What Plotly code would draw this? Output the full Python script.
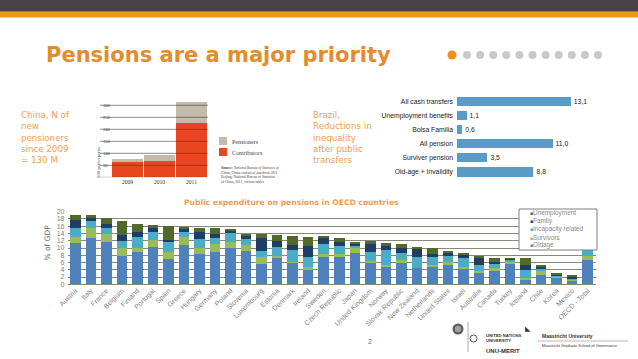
import plotly.graph_objects as go

W, H = 638, 359
def X(px): return px / W
def Y(py): return 1 - py / H

# ---------------- data ----------------
china_years = ["2009", "2010", "2011"]
china_contributors = [62, 67, 225]
china_pensioners = [14, 26, 87]
china_ticks = [0, 50, 100, 150, 200, 250, 300, 350]
china_ticktext = ["0", "50", "100", "150", "200", "250", "300", "350 million"]

brazil_cats = ["All cash transfers", "Unemployment benefits", "Bolsa Familia",
               "All pension", "Surviver pension", "Old-age + Invalidity"]
brazil_vals = [13.1, 1.1, 0.6, 11.0, 3.5, 8.8]

countries = ["Austria", "Italy", "France", "Belgium", "Finland", "Portugal", "Spain",
             "Greece", "Hungary", "Germany", "Poland", "Slovenia", "Luxembourg",
             "Estonia", "Denmark", "Ireland", "Sweden", "Czech Republic", "Japan",
             "United Kingdom", "Norway", "Slovak Republic", "New Zealand",
             "Netherlands", "United States", "Israel", "Australia", "Canada",
             "Turkey", "Iceland", "Chile", "Korea", "Mexico", "OECD - Total"]
old_age = [11.5, 12.8, 11.7, 7.9, 8.8, 10.4, 7.0, 10.8, 8.3, 9.0, 9.9, 9.2, 5.5,
           7.5, 6.0, 3.9, 7.6, 7.6, 8.5, 6.1, 5.0, 5.8, 4.6, 4.9, 5.3, 4.2, 3.2,
           3.9, 5.6, 1.5, 2.6, 1.7, 1.2, 6.7]
survivors = [1.6, 2.6, 2.1, 2.0, 1.1, 1.8, 2.0, 2.1, 1.6, 2.1, 1.8, 1.6, 2.1,
             0.3, 0.1, 1.0, 0.7, 0.7, 1.4, 0.2, 0.3, 0.9, 0.0, 0.4, 0.9, 0.7, 0.6,
             0.5, 0.6, 0.2, 1.2, 0.6, 0.2, 1.0]
incapacity = [2.5, 2.0, 1.8, 2.0, 3.1, 2.1, 2.9, 1.6, 2.5, 1.6, 2.3, 1.7, 1.7,
              2.6, 3.3, 2.5, 2.7, 2.3, 0.7, 2.5, 4.1, 2.0, 3.0, 2.5, 1.9, 2.3, 1.5,
              1.2, 0.8, 2.2, 0.3, 0.2, 0.1, 2.3]
family = [2.1, 0.8, 1.1, 1.8, 1.5, 1.1, 0.3, 0.6, 1.9, 1.1, 0.8, 0.9, 3.4,
          1.6, 1.4, 3.2, 1.7, 1.0, 0.7, 2.4, 1.4, 1.4, 2.1, 0.5, 0.4, 0.9, 1.9,
          0.6, 0.1, 1.3, 0.8, 0.3, 0.7, 2.0]
unemployment = [1.3, 0.8, 1.6, 3.7, 2.0, 1.0, 3.8, 0.6, 1.2, 1.6, 0.3, 0.5, 1.2,
                1.6, 2.5, 2.5, 0.6, 1.1, 0.4, 0.6, 0.5, 0.9, 0.7, 1.6, 0.7, 0.6, 0.7,
                1.1, 0.1, 2.0, 0.3, 0.2, 0.2, 0.8]
oecd_ticks = list(range(0, 21, 2))

oecd_series = [("Oldage", old_age, "#4f81bd"),
               ("Survivors", survivors, "#9bbb59"),
               ("Incapacity related", incapacity, "#4bacc6"),
               ("Family", family, "#1f3d66"),
               ("Unemployment", unemployment, "#4f6a2a")]

ORANGE = "#e58b2f"
ORANGE_L = "#ef9e52"

fig = go.Figure()

# ---------------- China chart ----------------
xi = list(range(len(china_years)))
fig.add_trace(go.Bar(x=xi, y=china_contributors, marker=dict(color="#e8461e", line_width=0),
                     width=0.97, xaxis="x", yaxis="y", showlegend=False, hoverinfo="skip"))
fig.add_trace(go.Bar(x=xi, y=china_pensioners, marker=dict(color="#c5baa9", line_width=0),
                     width=0.97, xaxis="x", yaxis="y", showlegend=False, hoverinfo="skip"))

# ---------------- Brazil chart ----------------
fig.add_trace(go.Bar(y=brazil_cats, x=brazil_vals, orientation="h",
                     marker=dict(color="#5b9bc8", line_width=0), width=0.66,
                     text=[f"{v:.1f}".replace(".", ",") for v in brazil_vals],
                     textposition="outside", cliponaxis=False,
                     textfont=dict(size=6.8, color="#222", family="Liberation Sans"),
                     xaxis="x2", yaxis="y2", showlegend=False, hoverinfo="skip"))

# ---------------- OECD chart ----------------
for name, vals, col in oecd_series:
    fig.add_trace(go.Bar(x=countries, y=vals, name=name, marker=dict(color=col, line_width=0),
                         width=0.68, xaxis="x3", yaxis="y3", showlegend=False, hoverinfo="skip"))

shapes = []
annotations = []

# top bands
shapes.append(dict(type="rect", xref="paper", yref="paper", x0=0, x1=1, y0=Y(11.7), y1=1,
                   fillcolor="#4a4249", line_width=0, layer="below"))
shapes.append(dict(type="rect", xref="paper", yref="paper", x0=0, x1=1, y0=Y(17.5), y1=Y(11.7),
                   fillcolor="#f0961e", line_width=0, layer="below"))

# title
annotations.append(dict(text="<b>Pensions are a major priority</b>", x=X(44), y=Y(55),
                        xref="paper", yref="paper", xanchor="left", yanchor="middle",
                        showarrow=False, font=dict(family="DejaVu Sans", size=21, color=ORANGE)))

# decorative dots
def circle(cx, cy, r, col):
    return dict(type="circle", xref="paper", yref="paper", x0=X(cx - r), x1=X(cx + r),
                y0=Y(cy + r), y1=Y(cy - r), fillcolor=col, line_width=0)
shapes.append(circle(452, 55, 4.5, "#f0901c"))
for k in range(11):
    shapes.append(circle(467 + 13.1 * k, 55, 4, "#c9c9c9"))

# side texts
annotations.append(dict(text="China, N of<br>new<br>pensioners<br>since 2009<br>= 130 M",
                        x=X(19), y=Y(108), xref="paper", yref="paper", xanchor="left",
                        yanchor="top", align="left", showarrow=False,
                        font=dict(family="DejaVu Sans", size=8.7, color=ORANGE_L)))
annotations.append(dict(text="Brazil,<br>Reductions in<br>inequality<br>after public<br>transfers",
                        x=X(311), y=Y(108), xref="paper", yref="paper", xanchor="left",
                        yanchor="top", align="left", showarrow=False,
                        font=dict(family="DejaVu Sans", size=8.7, color=ORANGE_L)))

# China gridlines (drawn over bars)
for v in china_ticks[:-1]:
    shapes.append(dict(type="line", xref="paper", yref="y", x0=X(100), x1=X(208), y0=v, y1=v,
                       line=dict(color="#3a3a3a", width=0.6), layer="above"))
# China legend
shapes.append(dict(type="rect", xref="paper", yref="paper", x0=X(219), x1=X(227), y0=Y(145),
                   y1=Y(137), fillcolor="#c5baa9", line_width=0))
shapes.append(dict(type="rect", xref="paper", yref="paper", x0=X(219), x1=X(227), y0=Y(156),
                   y1=Y(148), fillcolor="#e8461e", line_width=0))
annotations.append(dict(text="Pensioners", x=X(230), y=Y(141.5), xref="paper", yref="paper",
                        xanchor="left", yanchor="middle", showarrow=False,
                        font=dict(family="Liberation Serif", size=6, color="#444")))
annotations.append(dict(text="Contributors", x=X(230), y=Y(152.5), xref="paper", yref="paper",
                        xanchor="left", yanchor="middle", showarrow=False,
                        font=dict(family="Liberation Serif", size=6, color="#444")))
annotations.append(dict(text="<b>Source:</b> <i>National Bureau of Statistics of</i><br><i>China, China statistical yearbook 2011,</i><br>Beijing: National Bureau of Statistics<br>of China, 2011, various tables",
                        x=X(219), y=Y(163.5), xref="paper", yref="paper", xanchor="left",
                        yanchor="top", align="left", showarrow=False,
                        font=dict(family="Liberation Serif", size=3.6, color="#444")))
annotations.append(dict(text="000 participants", x=X(93.5), y=Y(162), xref="paper", yref="paper",
                        textangle=-90, showarrow=False,
                        font=dict(family="Liberation Serif", size=4.8, color="#444")))

# OECD title & y label
annotations.append(dict(text="<b>Public expenditure on pensions in OECD countries</b>",
                        x=X(291), y=Y(202), xref="paper", yref="paper", xanchor="center",
                        yanchor="middle", showarrow=False,
                        font=dict(family="DejaVu Sans", size=7.6, color=ORANGE_L)))
annotations.append(dict(text="% of GDP", x=X(40), y=Y(262), xref="paper", yref="paper",
                        textangle=-90, showarrow=False,
                        font=dict(family="DejaVu Sans", size=7.5, color="#666")))

# OECD manual legend
shapes.append(dict(type="rect", xref="paper", yref="paper", x0=X(519), x1=X(597), y0=Y(250),
                   y1=Y(209), fillcolor="white", line=dict(color="#7f7f7f", width=1), layer="above"))
for j, (name, vals, col) in enumerate(reversed(oecd_series)):
    annotations.append(dict(text=f"<span style='color:{col};font-size:5px'>■</span>{name}",
                            x=X(528), y=Y(212.5 + 8.2 * j), xref="paper", yref="paper",
                            xanchor="left", yanchor="middle", showarrow=False,
                            font=dict(family="Liberation Sans", size=6.4, color="#8a8a8a")))

# footer
annotations.append(dict(text="2", x=X(370), y=Y(347), xref="paper", yref="paper",
                        showarrow=False, font=dict(family="Liberation Sans", size=7, color="#777")))
shapes.append(circle(458, 329, 5.5, "#5d5d5d"))
shapes.append(circle(458, 329, 3.2, "#a0a0a0"))
shapes.append(dict(type="line", xref="paper", yref="paper", x0=X(468), x1=X(468), y0=Y(352),
                   y1=Y(322), line=dict(color="#999", width=0.8)))
shapes.append(dict(type="circle", xref="paper", yref="paper", x0=X(470), x1=X(477), y0=Y(342),
                   y1=Y(335), line=dict(color="#555", width=1)))
annotations.append(dict(text="<b>UNITED NATIONS<br>UNIVERSITY</b>", x=X(484), y=Y(338),
                        xref="paper", yref="paper", xanchor="left", yanchor="middle",
                        align="left", showarrow=False,
                        font=dict(family="Liberation Sans", size=4.2, color="#333")))
annotations.append(dict(text="<b>UNU-MERIT</b>", x=X(484), y=Y(351), xref="paper", yref="paper",
                        xanchor="left", yanchor="middle", showarrow=False,
                        font=dict(family="Liberation Sans", size=6, color="#333")))
annotations.append(dict(text="◣", x=X(533), y=Y(335), xref="paper", yref="paper",
                        showarrow=False, font=dict(size=7, color="#333")))
annotations.append(dict(text="<b>Maastricht University</b>", x=X(540), y=Y(335.5),
                        xref="paper", yref="paper", xanchor="left", yanchor="middle",
                        showarrow=False, font=dict(family="Liberation Sans", size=5, color="#333")))
shapes.append(dict(type="line", xref="paper", yref="paper", x0=X(538), x1=X(628), y0=Y(341),
                   y1=Y(341), line=dict(color="#888", width=0.6)))
annotations.append(dict(text="Maastricht Graduate School of Governance", x=X(540), y=Y(345.5),
                        xref="paper", yref="paper", xanchor="left", yanchor="middle",
                        showarrow=False, font=dict(family="Liberation Sans", size=3.9, color="#333")))

fig.update_layout(
    template="none",
    width=W, height=H, margin=dict(l=0, r=0, t=0, b=0, pad=0),
    paper_bgcolor="white", plot_bgcolor="rgba(0,0,0,0)",
    barmode="stack", showlegend=False,
    shapes=shapes, annotations=annotations,
    xaxis=dict(domain=[X(100), X(208)], anchor="y", range=[-0.86, 2.516], tickvals=xi,
               ticktext=china_years, automargin=False,
               showgrid=False, zeroline=False, showline=False, ticks="",
               tickfont=dict(family="Liberation Serif", size=5.5, color="#333")),
    yaxis=dict(domain=[Y(177.3), Y(93.3)], anchor="x", range=[0, 350], tickvals=china_ticks,
               ticktext=china_ticktext, ticklabelposition="inside", showgrid=False,
               zeroline=False, showline=False, ticks="", automargin=False,
               tickfont=dict(family="Liberation Serif", size=4.6, color="#444")),
    xaxis2=dict(domain=[X(457), X(596)], anchor="y2", range=[0, 16], visible=False,
                automargin=False),
    yaxis2=dict(domain=[Y(179), Y(94.3)], anchor="x2", categoryorder="array",
                categoryarray=list(reversed(brazil_cats)), showgrid=False, zeroline=False,
                showline=False, ticks="", ticklabelstandoff=3, automargin=False,
                tickfont=dict(family="Liberation Sans", size=6.8, color="#222")),
    xaxis3=dict(domain=[X(67.5), X(595.5)], anchor="y3", tickangle=-45, showgrid=False,
                zeroline=False, showline=False, ticks="", automargin=False,
                tickfont=dict(family="Liberation Sans", size=7, color="#7f7f7f")),
    yaxis3=dict(domain=[Y(284.3), Y(211.7)], anchor="x3", range=[0, 20], tickvals=oecd_ticks,
                showgrid=True, gridcolor="#8a877c", gridwidth=1, zeroline=True,
                zerolinecolor="#8a877c", zerolinewidth=1, showline=False, ticks="",
                ticklabelstandoff=2, automargin=False,
                tickfont=dict(family="Liberation Sans", size=7, color="#7f7f7f")),
)

fig.write_html("out.html", config={"displayModeBar": False},
               post_script="document.body.style.margin='0';document.body.style.overflow='hidden';")
